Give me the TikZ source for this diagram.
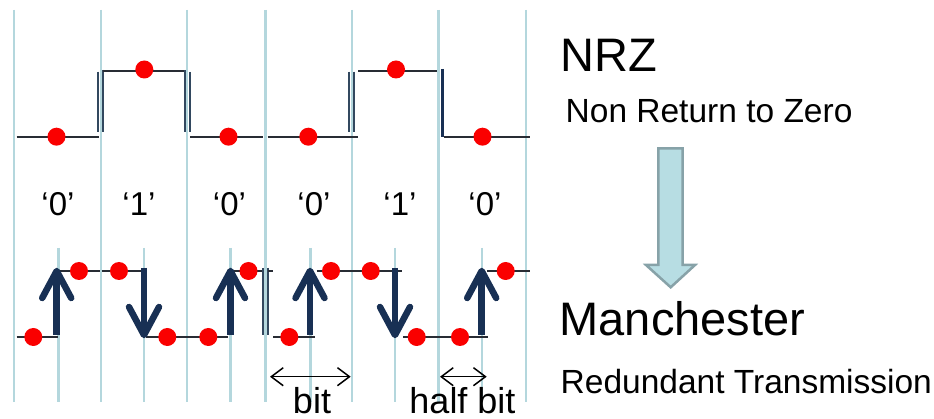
\documentclass[tikz,border=0pt]{standalone}
\usepackage{fontspec}
\setmainfont{Liberation Sans}
\usetikzlibrary{arrows.meta}
\definecolor{gridc}{RGB}{180,215,221}
\definecolor{sigc}{RGB}{40,44,52}
\definecolor{barc}{RGB}{50,72,95}
\definecolor{navyc}{RGB}{24,48,84}
\definecolor{dotc}{RGB}{250,0,0}
\definecolor{bigfill}{RGB}{183,221,227}
\definecolor{bigdraw}{RGB}{135,162,168}
\tikzset{
  gridline/.style={gridc, line width=2.6pt},
  sig/.style={sigc, line width=2pt},
  barline/.style={barc, line width=2pt},
  thickbar/.style={navyc, line width=3.5pt},
  shaft/.style={navyc, line width=6.5pt},
  chevron/.style={navyc, line width=6.5pt, line cap=round, line join=round},
  reddot/.style={fill=dotc},
  dimarrow/.style={black, line width=1.5pt, {Straight Barb[length=12pt,width=18pt]}-{Straight Barb[length=12pt,width=18pt]}},
  lbl/.style={anchor=base, inner sep=0pt, font=\fontsize{33}{33}\selectfont},
  bitlbl/.style={anchor=base, inner sep=0pt, font=\fontsize{36}{36}\selectfont},
  bigtxt/.style={anchor=base west, inner sep=0pt, font=\fontsize{47}{47}\selectfont},
  subtxt/.style={anchor=base west, inner sep=0pt, font=\fontsize{33.5}{33.5}\selectfont},
  bigarrow/.style={fill=bigfill, draw=bigdraw, line width=2.5pt, line join=miter}
}
\newcommand\mupar[1]{%
  \draw[shaft] (#1,335) -- (#1,274);
  \draw[chevron] (#1-14.5,298) -- (#1,271) -- (#1+14.5,298);}
\newcommand\mdownar[1]{%
  \draw[shaft] (#1,268) -- (#1,332);
  \draw[chevron] (#1-15,307) -- (#1,335) -- (#1+15,307);}
\begin{document}
\begin{tikzpicture}[x=1pt,y=-1pt]
\useasboundingbox (0,0) rectangle (934,419);
\fill[white] (0,0) rectangle (934,419);

% grid
\foreach \x in {14,101,187,265.5,352,438.5,526}
  \draw[gridline] (\x,10) -- (\x,402);
\foreach \x in {58.5,144,230.5,310.5,395,482}
  \draw[gridline] (\x,248) -- (\x,402);

% NRZ waveform
\draw[sig] (16.7,136.7) -- (99,136.7);
\draw[barline] (98.3,71.7) -- (98.3,131.7);
\draw[barline] (102.7,70) -- (102.7,131.7);
\draw[sig] (102.7,70.7) -- (185,70.7);
\draw[barline] (185,70) -- (185,131.7);
\draw[barline] (190,72) -- (190,131.7);
\draw[sig] (190,136.7) -- (263,136.7);
\draw[sig] (267.7,136.7) -- (358,136.7);
\draw[barline] (349.3,71.7) -- (349.3,131.7);
\draw[barline] (354,71.7) -- (354,131.7);
\draw[sig] (358,70.7) -- (436.7,70.7);
\draw[thickbar] (442.3,69) -- (442.3,136.7);
\draw[sig] (444,136.7) -- (530,136.7);

\foreach \p in {(56.5,136.7),(144.3,69.5),(228.5,136.7),(308.3,136.7),(396,69.5),(482.5,136.7)}
  \fill[reddot] \p circle[radius=9];

% Manchester waveform
\draw[sig] (16.7,337) -- (58,337);
\draw[sig] (59,271) -- (100,271);
\draw[sig] (101.7,271) -- (146,271);
\draw[sig] (146,337) -- (228,337);
\draw[sig] (230,271) -- (263,271);
\draw[barline] (263.3,268) -- (263.3,335);
\draw[barline] (267.7,268) -- (267.7,335);
\draw[sig] (268,271) -- (273,271);
\draw[sig] (273,337) -- (315,337);
\draw[sig] (316.7,271) -- (401.7,271);
\draw[sig] (403,337) -- (488,337);
\draw[sig] (487,271) -- (530,271);

\mupar{56.7}
\mdownar{144}
\mupar{230.5}
\mupar{310}
\mdownar{395}
\mupar{481.7}

\foreach \p in {(33.3,337),(79,271),(119,271),(167.3,337),(208.3,337),(248.5,271),
                (289.3,337),(331,271),(370.7,271),(416.7,337),(460,337),(505.7,271)}
  \fill[reddot] \p circle[radius=9];

% bit labels
\node[lbl] (b1) at (58,216) {‘0’};
\node[lbl] (b2) at (139,216) {‘1’};
\node[lbl] (b3) at (229.5,216) {‘0’};
\node[lbl] (b4) at (314,216) {‘0’};
\node[lbl] (b5) at (400,216) {‘1’};
\node[lbl] (b6) at (485,216) {‘0’};

% dimension arrows
\coordinate (bitL) at (270,376.7);
\coordinate (bitR) at (350.7,376.7);
\draw[dimarrow] (bitL) -- (bitR);
\coordinate (hbL) at (440,376.7);
\coordinate (hbR) at (486.7,376.7);
\draw[dimarrow] (hbL) -- (hbR);
\node[bitlbl] (bittxt) at (312,413) {bit};
\node[bitlbl] (hbtxt) at (462.5,413) {half bit};

% right side texts
\node[bigtxt] (nrz) at (560.5,72) {NRZ};
\node[subtxt] (nrzsub) at (565.5,123) {Non Return to Zero};
\node[bigtxt] (man) at (559.5,336) {Manchester};
\node[subtxt] (mansub) at (560.5,393) {Redundant Transmission};

% big hollow arrow
\draw[bigarrow] (658.3,148.3) -- (682.7,148.3) -- (682.7,265) -- (695,265)
  -- (670.7,287.3) -- (646,265) -- (658.3,265) -- cycle;
\end{tikzpicture}
\end{document}
